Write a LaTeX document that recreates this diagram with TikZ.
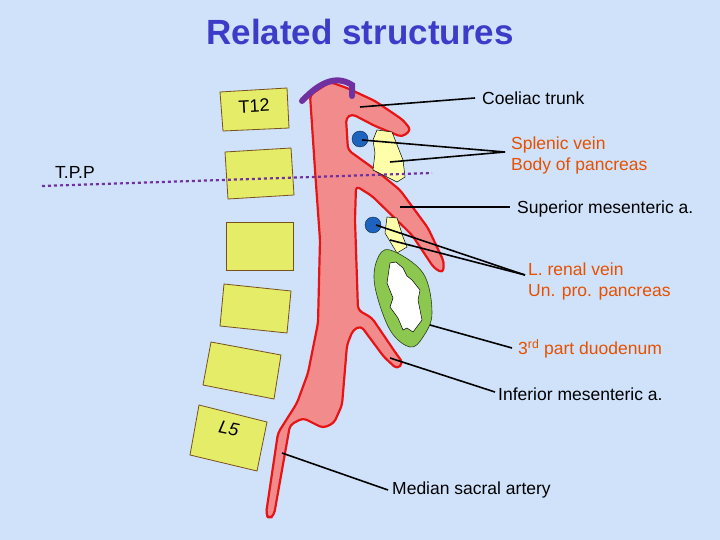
\documentclass[tikz,border=0pt]{standalone}
\usepackage{fontspec}
\setmainfont{Liberation Sans}
\begin{document}
\begin{tikzpicture}[x=1pt,y=-1pt,
 vert/.style={fill=vyel,draw=vbrown,line width=0.8pt},
 lead/.style={draw=black,line width=1.6pt},
 lbl/.style={anchor=west,inner sep=0pt,font=\fontsize{17.5}{21}\selectfont},
 olbl/.style={lbl,text=lorange,align=left}]
\definecolor{bg}{RGB}{207,226,250}
\definecolor{vyel}{RGB}{228,236,104}
\definecolor{vbrown}{RGB}{120,80,30}
\definecolor{aor}{RGB}{242,140,140}
\definecolor{ared}{RGB}{230,20,20}
\definecolor{purp}{RGB}{112,48,160}
\definecolor{pan}{RGB}{255,255,170}
\definecolor{grn}{RGB}{140,200,80}
\definecolor{lorange}{RGB}{230,80,0}
\definecolor{ttl}{RGB}{60,60,200}
\definecolor{dotb}{RGB}{30,100,190}
\fill[bg] (0,0) rectangle (720,540);
\useasboundingbox (0,0) rectangle (720,540);
\node[font=\fontsize{35}{40}\selectfont\bfseries,text=ttl] (title) at (360,32) {Related structures};
% vertebrae
\draw[vert] (220,92)--(287,88)--(289,128)--(223,131)--cycle;
\node[font=\fontsize{18}{21}\selectfont,rotate=3] (t12) at (254,106) {T12};
\draw[vert] (225,152)--(291,148)--(294,195)--(228,199)--cycle;
\draw[vert] (226,222)--(293,222)--(293,270)--(226,270)--cycle;
\draw[vert] (224,284)--(291,291)--(287,333)--(220,326)--cycle;
\draw[vert] (211,342)--(281,355)--(274,399)--(203,385)--cycle;
\draw[vert] (199,405)--(267,422)--(257,471)--(190,455)--cycle;
\node[font=\fontsize{18}{21}\selectfont\itshape,rotate=-12] (l5) at (229,429) {L5};
% aorta
\draw[fill=aor,draw=ared,line width=2.2pt,line join=round,rounded corners=4pt]
 (310,95)--(330,82)--(347,88)--(375,101)--(403,120)--(411,130)--(402,137)--(375,126)--(352,114)--(346,118)
 --(348,150)--(373,168)--(400,190)--(428,228)--(444,262)--(443,273)--(434,268)--(412,235)--(372,196)--(356,186)
 --(355,220)--(358,310)--(372,318)--(395,352)--(403,363)--(397,369)--(384,357)--(361,326)--(353,330)
 --(347,345)--(342,405)--(334,423)--(323,428)--(303,418)--(290,425)--(274,515)--(269,519)--(266,514)
 --(278,433)--(297,403)--(308,373)--(318,323)--(320,240)--(315,170)--cycle;
\draw[purp,line width=6pt,line cap=round] (302,101) .. controls (318,84) and (335,74) .. (352,85) -- (352,96);
% pancreas
\draw[fill=pan,draw=black,line width=0.5pt] (377,130)--(392,132)--(403,160)--(405,177)--(397,182)--(373,170)--(375,153)--(373,140)--cycle;
\draw[fill=pan,draw=black,line width=0.5pt] (387,217)--(397,218)--(403,237)--(407,247)--(397,253)--(385,233)--cycle;
\draw[fill=dotb,draw=black!60!dotb] (360,139) circle (8);
\draw[fill=dotb,draw=black!60!dotb] (373,225) circle (8);
% duodenum
\draw[fill=grn,draw=black!70!grn,line width=0.6pt,smooth cycle,tension=0.6]
 plot coordinates {(377,260) (390,250) (423,273) (432,313) (423,337) (410,347) (390,330) (375,287)};
\draw[fill=white,draw=black,line width=0.5pt]
 (390,263)--(396,262)--(403,268)--(407,276)--(412,280)--(420,290)--(418,300)--(422,320)--(413,332)--(407,328)--(403,330)--(398,318)--(390,307)--(393,298)--(387,283)--cycle;
% TPP
\draw[purp,line width=2.2pt,dashed] (42,186)--(432,173);
\node[lbl] (tpp) at (55,172) {T.P.P};
% labels
\node[lbl] (coel) at (482,98) {Coeliac trunk};
\node[olbl] (splen) at (511,155) {Splenic vein\\Body of pancreas};
\node[lbl] (sma) at (517,209) {Superior mesenteric a.};
\node[olbl] (lrv) at (528,281) {L. renal vein\\Un. pro. pancreas};
\node[olbl] (duo) at (518,349) {3\textsuperscript{rd} part duodenum};
\node[lbl] (ima) at (498,394) {Inferior mesenteric a.};
\node[lbl] (msa) at (392,490) {Median sacral artery};
\coordinate (c1) at (360,107); \coordinate (c2) at (475,98);
\coordinate (s1) at (362,140); \coordinate (s2) at (390,162); \coordinate (s3) at (505,152);
\coordinate (m1) at (400,207); \coordinate (m2) at (510,207);
\coordinate (r1) at (376,225); \coordinate (r2) at (390,240); \coordinate (r3) at (525,275);
\coordinate (d1) at (430,325); \coordinate (d2) at (512,348);
\coordinate (i1) at (390,358); \coordinate (i2) at (495,392);
\coordinate (a1) at (282,453); \coordinate (a2) at (388,490);
\draw[lead] (c1)--(c2);
\draw[lead] (s1)--(s3); \draw[lead] (s2)--(s3);
\draw[lead] (m1)--(m2);
\draw[lead] (r1)--(r3); \draw[lead] (r2)--(r3);
\draw[lead] (d1)--(d2);
\draw[lead] (i1)--(i2);
\draw[lead] (a1)--(a2);
\end{tikzpicture}
\end{document}
